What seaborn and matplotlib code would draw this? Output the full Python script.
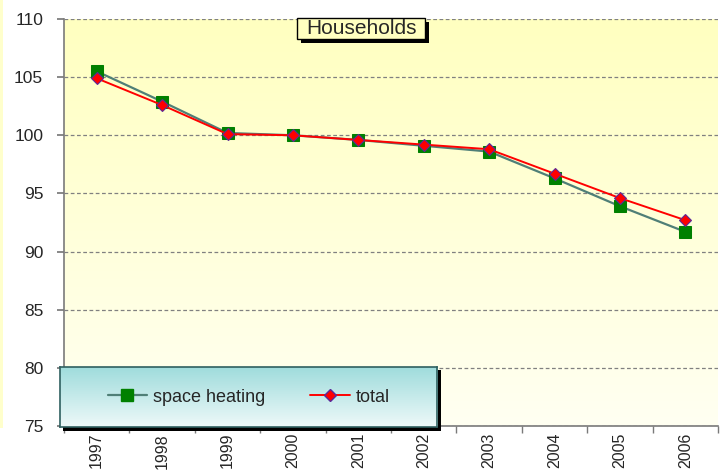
import matplotlib.pyplot as plt
import numpy as np
import pandas as pd
import seaborn as sns
from matplotlib.colors import LinearSegmentedColormap
from matplotlib.lines import Line2D
from matplotlib.patches import Rectangle

years = ['1997', '1998', '1999', '2000', '2001', '2002', '2003', '2004', '2005', '2006']
space_heating = [105.5, 102.9, 100.2, 100.0, 99.6, 99.1, 98.6, 96.3, 93.9, 91.7]
total = [104.9, 102.6, 100.1, 100.0, 99.6, 99.2, 98.8, 96.7, 94.6, 92.7]

W, H = 720, 470


def fig_box(x0, y0, x1, y1):
    # pixel box (top-left origin) -> figure fraction rect
    return [x0 / W, 1 - y1 / H, (x1 - x0) / W, (y1 - y0) / H]


def add_rect(x0, y0, x1, y1, **kw):
    b = fig_box(x0, y0, x1, y1)
    fig.add_artist(Rectangle((b[0], b[1]), b[2], b[3], transform=fig.transFigure, **kw))


sns.set_theme(style='white')
plt.rcParams['font.family'] = ['Liberation Sans', 'DejaVu Sans']

fig = plt.figure(figsize=(7.2, 4.7), dpi=100)
ax = fig.add_axes(fig_box(64, 19, 718, 426))

df = pd.DataFrame({'year': years, 'space heating': space_heating, 'total': total})

sns.lineplot(data=df, x='year', y='space heating', ax=ax, color='#4f7f77', lw=1.6,
             marker='s', markersize=8, markerfacecolor='#008000',
             markeredgecolor='#008000', zorder=3)
sns.lineplot(data=df, x='year', y='total', ax=ax, color='#ff0000', lw=1.4,
             marker='D', markersize=6.5, markerfacecolor='#ff0000',
             markeredgecolor='#5a2a9a', markeredgewidth=0.8, zorder=4)

# yellow gradient plot background
bg = LinearSegmentedColormap.from_list('bg', ['#fffff2', '#ffffc0'])
ax.imshow(np.linspace(0, 1, 256).reshape(-1, 1), extent=(-0.5, 9.5, 75, 110),
          origin='lower', aspect='auto', cmap=bg, zorder=0)

ax.set_xlim(-0.5, 9.5)
ax.set_ylim(75, 110)
ax.set_yticks(range(75, 111, 5))
ax.set_xticks(range(len(years)))
ax.set_xticklabels(years)
ax.set_xticks(np.arange(-0.5, 10, 1), minor=True)
ax.set_xlabel('')
ax.set_ylabel('')
ax.yaxis.grid(True, ls=(0, (3, 2)), color='#808080', lw=0.9)
ax.set_axisbelow(False)
for s in ['top', 'right']:
    ax.spines[s].set_visible(False)
for s in ['left', 'bottom']:
    ax.spines[s].set_color('#7a7a7a')
    ax.spines[s].set_linewidth(1.2)
ax.tick_params(axis='y', length=5, color='#7a7a7a', labelsize=12.5, pad=10, left=True)
ax.tick_params(axis='x', which='major', length=0, labelsize=11.5, rotation=90, pad=5)
ax.tick_params(axis='x', which='minor', length=5, color='#7a7a7a', bottom=True)
for lab in ax.get_xticklabels():
    lab.set_va('top')

# thin strip of neighbouring chart on the left edge
add_rect(0, 0, 3, 428, fc='#ffffcc', ec='none', zorder=1)

# title box with shadow
add_rect(301, 22, 429, 43, fc='black', ec='none', zorder=5)
add_rect(297, 18, 425, 39, fc='#ffffc0', ec='black', lw=1, zorder=6)
fig.text(361 / W, 1 - 29 / H, 'Households', ha='center', va='center',
         fontsize=15, zorder=7)

# legend box with gradient and shadow
add_rect(63, 370, 441, 431, fc='black', ec='none', zorder=5)
lax = fig.add_axes(fig_box(60, 367, 437, 427))
lax.set_zorder(6)
lg = LinearSegmentedColormap.from_list('lg', ['#eef9f9', '#9fdcdc'])
lax.imshow(np.linspace(0, 1, 256).reshape(-1, 1), extent=(0, 1, 0, 1),
           origin='lower', aspect='auto', cmap=lg)
lax.set_xticks([])
lax.set_yticks([])
for s in lax.spines.values():
    s.set_color('#2f6060')
    s.set_linewidth(1.2)
handles = [
    Line2D([], [], color='#4f7f77', lw=1.6, marker='s', markersize=8,
           markerfacecolor='#008000', markeredgecolor='#008000'),
    Line2D([], [], color='#ff0000', lw=1.4, marker='D', markersize=6.5,
           markerfacecolor='#ff0000', markeredgecolor='#5a2a9a'),
]
lax.legend(handles, ['space heating', 'total'], loc='center', ncol=2, frameon=False,
           fontsize=13, handlelength=2.2, handletextpad=0.3, columnspacing=2.5)

fig.savefig('out.png', dpi=100)
